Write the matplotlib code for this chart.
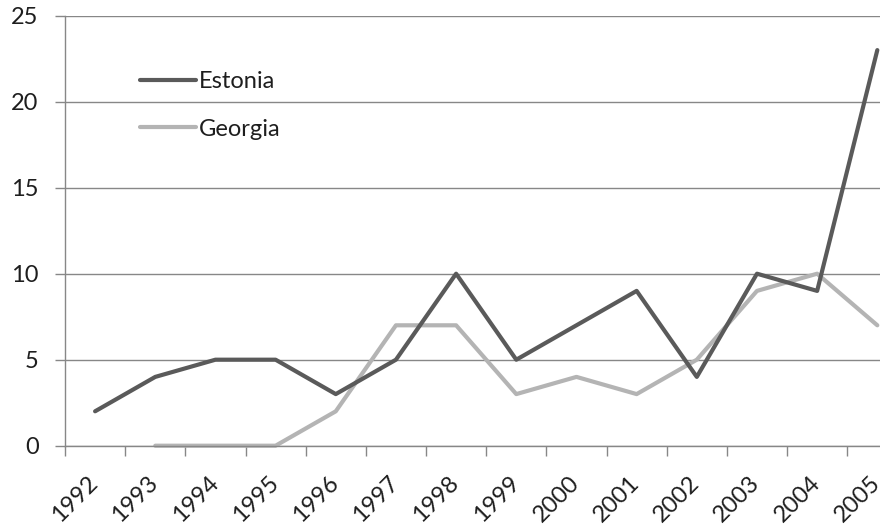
import matplotlib
matplotlib.use("Agg")
import matplotlib.pyplot as plt
import matplotlib.transforms as mtransforms
import numpy as np

years = ["1992", "1993", "1994", "1995", "1996", "1997", "1998", "1999",
         "2000", "2001", "2002", "2003", "2004", "2005"]
estonia = [2, 4, 5, 5, 3, 5, 10, 5, 7, 9, 4, 10, 9, 23]
georgia = [None, 0, 0, 0, 2, 7, 7, 3, 4, 3, 5, 9, 10, 7]

plt.rcParams['font.family'] = ['Lato', 'DejaVu Sans']

fig = plt.figure(figsize=(8.8, 5.31), dpi=100)
W, H = 880, 531
x0, x1 = 65, 907.4
y0, y1 = 445.7, 15.7
ax = fig.add_axes([x0 / W, (H - y0) / H, (x1 - x0) / W, (y0 - y1) / H])

gridc = "#878787"
txtc = "#1e1e1e"
fs = 17
n = len(years)
xc = np.arange(n) + 0.5

ax.set_xlim(0, n)
ax.set_ylim(0, 25)
ax.set_yticks([0, 5, 10, 15, 20, 25])
ax.yaxis.grid(True, color=gridc, linewidth=1.0)
ax.set_axisbelow(True)

for s in ["top", "right"]:
    ax.spines[s].set_visible(False)
for s in ["left", "bottom"]:
    ax.spines[s].set_color(gridc)
    ax.spines[s].set_linewidth(1.0)

ax.tick_params(axis='y', length=7, color=gridc, width=1.0, labelsize=fs, pad=12, labelcolor=txtc)
ax.set_xticks(np.arange(n + 1))
ax.set_xticklabels([])
ax.tick_params(axis='x', which='major', length=7, color=gridc, width=1.0)
ax.set_xticks(xc, minor=True)
ax.set_xticklabels(years, minor=True)
ax.tick_params(axis='x', which='minor', length=0, labelsize=fs, pad=19, labelcolor=txtc)
offset = mtransforms.ScaledTranslation(7 / 100, 0, fig.dpi_scale_trans)
for lab in ax.get_xticklabels(minor=True):
    lab.set_rotation(45)
    lab.set_ha('right')
    lab.set_va('top')
    lab.set_transform(lab.get_transform() + offset)

e = np.array(estonia, dtype=float)
g = np.array([np.nan if v is None else v for v in georgia], dtype=float)

ax.plot(xc, e, color="#5a5a5a", linewidth=3.0, solid_capstyle='round',
        solid_joinstyle='round', label="Estonia", clip_on=False, zorder=3)
ax.plot(xc, g, color="#b4b4b4", linewidth=3.0, solid_capstyle='round',
        solid_joinstyle='round', label="Georgia", clip_on=False, zorder=2)

leg = ax.legend(loc='upper left', bbox_to_anchor=((140 - x0) / (x1 - x0), 1 - (71 - y1) / (y0 - y1)),
                frameon=False, fontsize=fs, handlelength=2.37, handletextpad=0.13,
                labelspacing=1.13, borderaxespad=0, borderpad=0)
for t in leg.get_texts():
    t.set_color(txtc)

fig.savefig("out.png", dpi=100)
